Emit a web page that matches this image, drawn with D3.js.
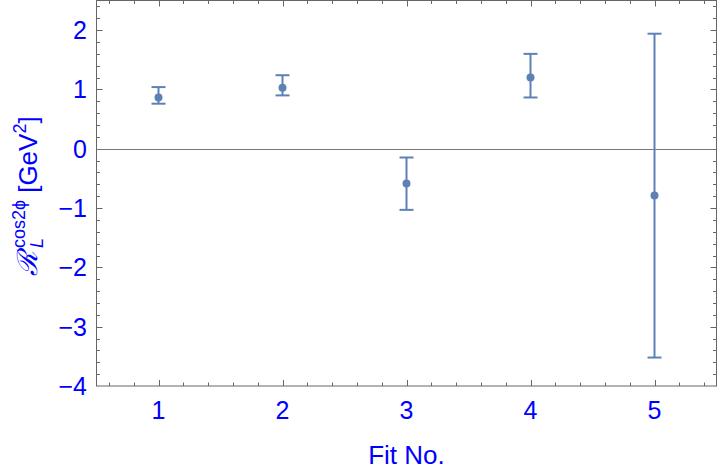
<!DOCTYPE html>
<html lang="en">
<head>
<meta charset="utf-8">
<title>Fit results</title>
<script src="https://cdn.jsdelivr.net/npm/d3@7"></script>
<style>
  body { margin: 0; background: #fff; }
  svg { display: block; font-family: "Liberation Sans", Arial, sans-serif; }
</style>
</head>
<body>
<svg width="720" height="474"></svg>
<script>
// fit numbers and results
var fits = [1, 2, 3, 4, 5];
var centers = [0.865, 1.03, -0.585, 1.20, -0.79];
var upper = [1.04, 1.24, -0.147, 1.60, 1.94];
var lower = [0.76, 0.90, -1.03, 0.865, -3.52];
var yTicks = [-4, -3, -2, -1, 0, 1, 2];

var svg = d3.select("svg"),
    width = +svg.attr("width"),
    height = +svg.attr("height");

var margin = {top: 0.5, right: 3.5, bottom: 88, left: 96.5};

var x = d3.scaleLinear().domain([0.5, 5.5]).range([margin.left, width - margin.right]);
var y = d3.scaleLinear().domain([-4, 2.5]).range([height - margin.bottom, margin.top]);

var frameColor = "#666666",
    pointColor = "#5e81b5",
    textColor = "#0000ff";

// minor/major ticks (every 0.2, major on integers)
var xMinor = d3.range(0.6, 5.5, 0.2).map(function(d) { return +d.toFixed(1); });
var yMinor = d3.range(-3.8, 2.5, 0.2).map(function(d) { return +d.toFixed(1); });
function isMajor(d) { return Math.abs(d - Math.round(d)) < 1e-6; }

var ticks = svg.append("g").attr("stroke", frameColor).attr("stroke-width", 1);
var x0 = x.range()[0], x1 = x.range()[1], y0 = y.range()[0], y1 = y.range()[1];

xMinor.forEach(function(d) {
  var len = isMajor(d) ? 6 : 3.5, px = Math.round(x(d)) + 0.5;
  ticks.append("line").attr("x1", px).attr("x2", px).attr("y1", y0).attr("y2", y0 - len);
  ticks.append("line").attr("x1", px).attr("x2", px).attr("y1", y1).attr("y2", y1 + len);
});
yMinor.forEach(function(d) {
  var len = isMajor(d) ? 6 : 3.5, py = Math.round(y(d)) + 0.5;
  ticks.append("line").attr("x1", x0).attr("x2", x0 + len).attr("y1", py).attr("y2", py);
  ticks.append("line").attr("x1", x1).attr("x2", x1 - len).attr("y1", py).attr("y2", py);
});

// zero line
svg.append("line")
    .attr("x1", x0).attr("x2", x1)
    .attr("y1", Math.round(y(0)) + 0.5).attr("y2", Math.round(y(0)) + 0.5)
    .attr("stroke", "#777").attr("stroke-width", 1);

// frame
svg.append("rect")
    .attr("x", x0).attr("y", y1)
    .attr("width", x1 - x0).attr("height", y0 - y1)
    .attr("fill", "none").attr("stroke", frameColor).attr("stroke-width", 1);

// tick labels
svg.append("g").selectAll("text")
  .data(fits)
  .enter().append("text")
    .attr("x", function(d) { return x(d); })
    .attr("y", 419)
    .attr("text-anchor", "middle")
    .attr("font-size", 25)
    .attr("fill", textColor)
    .text(function(d) { return d; });

svg.append("g").selectAll("text")
  .data(yTicks)
  .enter().append("text")
    .attr("x", 87)
    .attr("y", function(d) { return y(d) + 9; })
    .attr("text-anchor", "end")
    .attr("font-size", 25)
    .attr("fill", textColor)
    .text(function(d) { return d < 0 ? "\u2212" + Math.abs(d) : d; });

// axis titles
svg.append("text")
    .attr("x", (x0 + x1) / 2)
    .attr("y", 464)
    .attr("text-anchor", "middle")
    .attr("font-size", 26)
    .attr("fill", textColor)
    .text("Fit No.");

var lab = svg.append("g").attr("fill", textColor);
var inner = lab.append("g");
var big = 26, small = 18, cx = 0;
var r = inner.append("text").attr("x", cx).attr("y", 0).attr("font-size", big + 2)
    .attr("font-family", "DejaVu Serif").attr("font-style", "italic").text("\u211b");
cx += r.node().getComputedTextLength() + 4;
var sup = inner.append("text").attr("x", cx).attr("y", -12).attr("font-size", small).text("cos2\u03d5");
var sub = inner.append("text").attr("x", cx).attr("y", 6).attr("font-size", small)
    .attr("font-style", "italic").text("L");
cx += Math.max(sup.node().getComputedTextLength(), sub.node().getComputedTextLength()) + 7;
var gev = inner.append("text").attr("x", cx).attr("y", 0).attr("font-size", big).text("[GeV");
cx += gev.node().getComputedTextLength();
var two = inner.append("text").attr("x", cx).attr("y", -11).attr("font-size", small).text("2");
cx += two.node().getComputedTextLength();
inner.append("text").attr("x", cx).attr("y", 0).attr("font-size", big).text("]");
cx += 7;
inner.attr("transform", "translate(" + (-cx / 2) + ",0)");
lab.attr("transform", "translate(37," + ((y0 + y1) / 2 + 3) + ") rotate(-90)");

// error bars and points
var bars = svg.append("g").attr("stroke", pointColor).attr("stroke-width", 2);
fits.forEach(function(f, i) {
  var px = x(f);
  bars.append("line").attr("x1", px).attr("x2", px).attr("y1", y(upper[i])).attr("y2", y(lower[i]));
  bars.append("line").attr("x1", px - 7).attr("x2", px + 7).attr("y1", y(upper[i])).attr("y2", y(upper[i]));
  bars.append("line").attr("x1", px - 7).attr("x2", px + 7).attr("y1", y(lower[i])).attr("y2", y(lower[i]));
});

svg.append("g").selectAll("circle")
  .data(fits)
  .enter().append("circle")
    .attr("cx", function(d) { return x(d); })
    .attr("cy", function(d, i) { return y(centers[i]); })
    .attr("r", 4)
    .attr("fill", pointColor);
</script>
</body>
</html>
